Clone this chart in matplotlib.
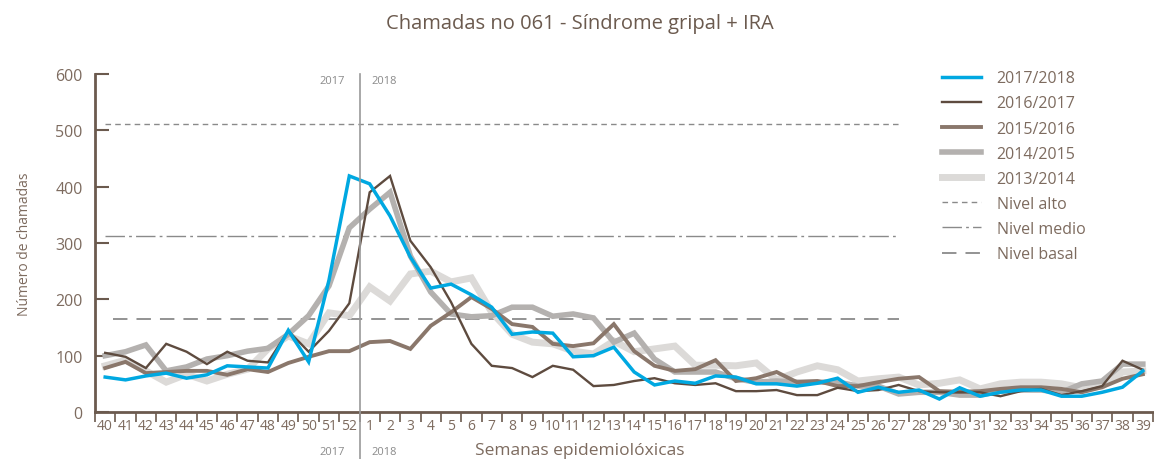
import matplotlib
matplotlib.use("Agg")
import matplotlib.pyplot as plt

plt.rcParams["font.family"] = ["Open Sans", "DejaVu Sans"]

# semanas epidemiolóxicas, da 40 á 39
weeks = [str(w) for w in range(40, 53)] + [str(w) for w in range(1, 40)]

s2017_18 = [62, 57, 64, 69, 60, 66, 82, 80, 78, 145, 89, 234, 419, 405, 348, 275, 220, 227, 208,
            186, 138, 142, 140, 98, 100, 115, 71, 48, 55, 51, 64, 62, 50, 50, 46, 51, 60, 35, 44,
            35, 39, 23, 43, 28, 35, 39, 39, 28, 28, 35, 44, 73]
s2016_17 = [105, 98, 78, 121, 107, 85, 107, 91, 88, 144, 107, 144, 193, 390, 419, 304, 257, 195,
            121, 82, 78, 62, 82, 75, 46, 48, 55, 60, 51, 48, 51, 37, 37, 39, 30, 30, 43, 37, 39,
            48, 37, 35, 35, 35, 28, 37, 41, 30, 37, 46, 91, 75]
s2015_16 = [78, 89, 69, 71, 73, 73, 66, 76, 71, 87, 98, 108, 108, 124, 126, 112, 153, 177, 204,
            183, 156, 151, 121, 117, 122, 156, 108, 82, 73, 76, 92, 55, 60, 71, 53, 55, 46, 46,
            53, 59, 62, 37, 36, 37, 41, 44, 44, 41, 35, 44, 59, 67]
s2014_15 = [100, 107, 119, 73, 80, 94, 100, 108, 113, 138, 171, 224, 327, 360, 390, 277, 213, 174,
            169, 171, 186, 186, 170, 174, 167, 124, 140, 94, 71, 71, 71, 59, 53, 55, 53, 53, 53,
            46, 46, 32, 35, 35, 30, 30, 37, 39, 39, 35, 50, 55, 85, 85]
s2013_14 = [82, 92, 73, 53, 67, 55, 67, 76, 112, 135, 121, 176, 171, 222, 197, 245, 250, 231, 238,
            177, 138, 124, 121, 108, 103, 126, 107, 112, 117, 83, 83, 82, 87, 57, 71, 82, 75, 55,
            59, 62, 48, 51, 57, 41, 50, 53, 53, 50, 43, 46, 71, 73]

nivel_alto = 511
nivel_medio = 313
nivel_basal = 165

brown = "#6b5a4e"
label_col = "#7d6b5f"

fig = plt.figure(figsize=(11.54, 4.6), dpi=100)
ax = fig.add_axes([95 / 1154, 47 / 460, 1058 / 1154, 338 / 460])

x = list(range(len(weeks)))

# limiares
ax.hlines(nivel_alto, 0, 39, colors="#8a8a8a", linestyles=(0, (4, 3)), linewidth=1.0,
          label="Nivel alto", zorder=1)
ax.hlines(nivel_medio, 0, 39, colors="#8a8a8a", linestyles=(0, (14, 3, 2, 3)), linewidth=1.0,
          label="Nivel medio", zorder=1)
ax.hlines(nivel_basal, 0.4, 39, colors="#8a8a8a", linestyles=(0, (8, 5)), linewidth=1.3,
          label="Nivel basal", zorder=1)

ax.plot(x, s2013_14, color="#dcdad8", linewidth=5, label="2013/2014", zorder=2,
        solid_joinstyle="miter")
ax.plot(x, s2014_15, color="#b4b1af", linewidth=4, label="2014/2015", zorder=3,
        solid_joinstyle="miter")
ax.plot(x, s2015_16, color="#8a776b", linewidth=2.8, label="2015/2016", zorder=4,
        solid_joinstyle="miter")
ax.plot(x, s2016_17, color="#5e4b3f", linewidth=1.7, label="2016/2017", zorder=5,
        solid_joinstyle="miter")
ax.plot(x, s2017_18, color="#00a8e1", linewidth=2.5, label="2017/2018", zorder=6,
        solid_joinstyle="miter")

# separación de anos
ax.axvline(12.5, ymin=-0.14, ymax=1, color="#9a9a9a", linewidth=1.2, clip_on=False, zorder=7)
for yv in (588, -70):
    ax.text(11.8, yv, "2017", ha="right", va="center", fontsize=8, color="#8a8a8a")
    ax.text(13.1, yv, "2018", ha="left", va="center", fontsize=8, color="#8a8a8a")

ax.set_xlim(-0.5, len(weeks) - 0.5)
ax.set_ylim(0, 600)
ax.set_yticks(range(0, 601, 100))
ax.set_xticks(x)
ax.set_xticklabels(weeks)
ax.set_xticks([i - 0.5 for i in range(len(weeks) + 1)], minor=True)
ax.tick_params(axis="x", which="major", length=0, pad=4, labelsize=10, labelcolor=label_col)
ax.tick_params(axis="x", which="minor", length=7, width=1.2, color=brown, direction="out")
ax.tick_params(axis="y", length=10, width=1.5, color=brown, direction="in", pad=9,
               labelsize=11.5, labelcolor=label_col)

for side in ["top", "right"]:
    ax.spines[side].set_visible(False)
for side in ["left", "bottom"]:
    ax.spines[side].set_color(brown)
    ax.spines[side].set_linewidth(2)

ax.set_ylabel("Número de chamadas", fontsize=10, color=label_col, labelpad=17)
fig.text(580 / 1154, 1 / 460, "Semanas epidemiolóxicas", ha="center", va="bottom",
         fontsize=12.5, color=label_col)
fig.text(580 / 1154, 1 - 24 / 460, "Chamadas no 061 - Síndrome gripal + IRA", ha="center",
         va="center", fontsize=14.5, color=brown)

handles, labels = ax.get_legend_handles_labels()
order = ["2017/2018", "2016/2017", "2015/2016", "2014/2015", "2013/2014",
         "Nivel alto", "Nivel medio", "Nivel basal"]
hmap = dict(zip(labels, handles))
leg = ax.legend([hmap[k] for k in order], order, loc="upper left",
                bbox_to_anchor=(928 / 1154, 1 - 57 / 460), bbox_transform=fig.transFigure,
                frameon=False, fontsize=11.5, handlelength=2.4, handletextpad=1.0,
                labelspacing=0.57)
for t in leg.get_texts():
    t.set_color(label_col)

fig.savefig("out.png", dpi=100)
